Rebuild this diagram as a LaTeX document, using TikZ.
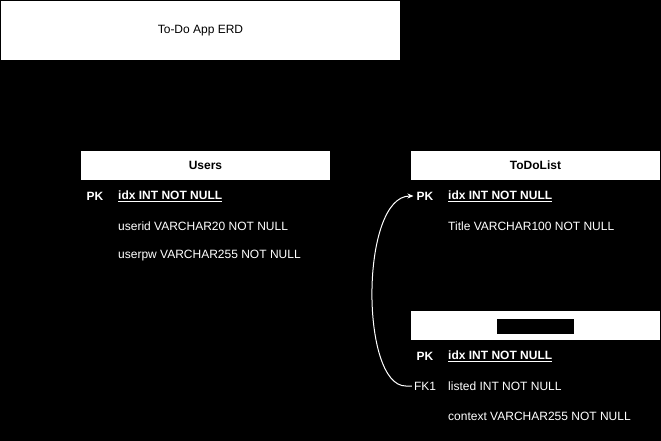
\documentclass[tikz,border=0pt]{standalone}
\usepackage{fontspec}
\setmainfont{Liberation Sans}
\usetikzlibrary{arrows.meta}

\begin{document}
\begin{tikzpicture}[x=1pt, y=-1pt, font=\fontsize{12}{14}\selectfont,
  head/.style={fill=white, text=black, inner sep=0, minimum width=249, minimum height=29, font=\fontsize{12}{14}\selectfont\bfseries},
  key/.style={text=white, inner sep=0, font=\fontsize{12}{14}\selectfont\bfseries},
  field/.style={text=white, inner sep=0, anchor=west}]
  \fill [black] (0,0) rectangle (661,441);
  \useasboundingbox (0,0) rectangle (661,441);
  \node [fill=white, inner sep=0, minimum width=399, minimum height=59] (title) at (200.5,30.5) {To-Do App ERD};
  % users
  \node [head] (users) at (205.5,165.5) {Users};
  \node [key] (ukpk) at (95,196) {PK};
  \node [field, font=\fontsize{12}{14}\selectfont\bfseries] (upk) at (118,196) {\underline{idx INT NOT NULL}};
  \node [field] (uid) at (118,226) {userid VARCHAR20 NOT NULL};
  \node [field] (upw) at (118,256) {userpw VARCHAR255 NOT NULL};
  % todolist
  \node [head] (todo) at (535.5,165.5) {ToDoList};
  \node [key] (tkpk) at (425,196) {PK};
  \node [field, font=\fontsize{12}{14}\selectfont\bfseries] (tpk) at (448,196) {\underline{idx INT NOT NULL}};
  \node [field] (ttitle) at (448,226) {Title VARCHAR100 NOT NULL};
  % third table, name blacked out
  \node [head] (memo) at (535.5,325.5) {};
  \fill [black] (497,319) rectangle (574,334);
  \node [key] (mkpk) at (425,356) {PK};
  \node [field, font=\fontsize{12}{14}\selectfont\bfseries] (mpk) at (448,356) {\underline{idx INT NOT NULL}};
  \node [key, font=\fontsize{12}{14}\selectfont] (mkfk) at (425,386) {FK1};
  \node [field] (mfk) at (448,386) {listed INT NOT NULL};
  \node [field] (mctx) at (448,416) {context VARCHAR255 NOT NULL};
  \draw [white, line width=1, -{Stealth[length=6pt, width=5pt]}]
  ([xshift=-2]mkfk.west) -- ++(-6,0) .. controls (360,386) and (360,196) .. ([xshift=-3]tkpk.west);
\end{tikzpicture}
\end{document}
